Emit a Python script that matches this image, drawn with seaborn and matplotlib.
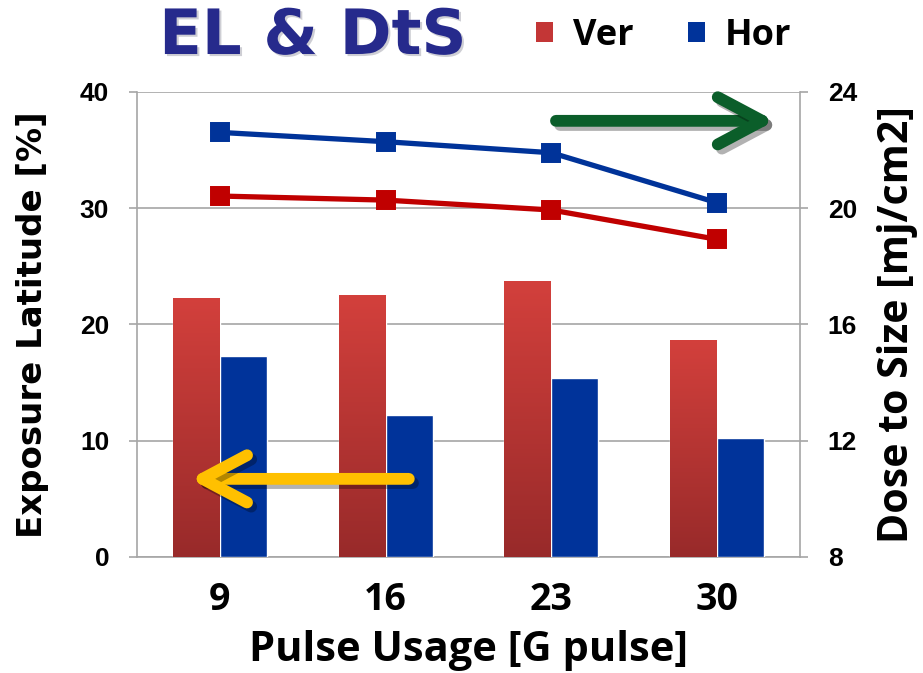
import numpy as np
import pandas as pd
import matplotlib
matplotlib.use("Agg")
import matplotlib.pyplot as plt
from matplotlib.patches import Patch, ArrowStyle
from matplotlib.colors import LinearSegmentedColormap
import matplotlib.patheffects as pe
import seaborn as sns

# ---------------- data ----------------
pulses = ["9", "16", "23", "30"]
el_ver = [22.3, 22.5, 23.75, 18.7]     # Exposure Latitude [%] (bars)
el_hor = [17.3, 12.25, 15.4, 10.2]
dts_ver = [20.42, 20.28, 19.94, 18.93]  # Dose to Size [mj/cm2] (lines)
dts_hor = [22.61, 22.29, 21.91, 20.19]
series = ["Ver", "Hor"]
left_ticks = [0, 10, 20, 30, 40]
right_ticks = [8, 12, 16, 20, 24]

el_df = pd.DataFrame({
    "pulse": pulses * 2,
    "series": [series[0]] * 4 + [series[1]] * 4,
    "el": el_ver + el_hor,
})
dts_df = pd.DataFrame({
    "pulse": pulses * 2,
    "series": [series[0]] * 4 + [series[1]] * 4,
    "dts": dts_ver + dts_hor,
})

# ---------------- style ----------------
sns.set_style("white")
plt.rcParams["font.family"] = ["DejaVu Sans"]
plt.rcParams["text.color"] = "black"
plt.rcParams["axes.labelcolor"] = "black"
plt.rcParams["xtick.color"] = "black"
plt.rcParams["ytick.color"] = "black"

SANS = "Open Sans"
RED_TOP = "#d3403c"
RED_BOT = "#982a2a"
RED_MID = "#c33636"
BLUE_BAR = "#00339a"
RED_LINE = "#c00000"
BLUE_LINE = "#003399"
GRID = "#a6a6a6"

fig = plt.figure(figsize=(9.23, 6.73), dpi=100)
fig.subplots_adjust(left=0.1484, right=0.8667, bottom=0.1724, top=0.8633)
ax = fig.add_subplot(111)

sns.barplot(data=el_df, x="pulse", y="el", hue="series", order=pulses,
            hue_order=series, palette={"Ver": RED_MID, "Hor": BLUE_BAR},
            width=0.566, gap=0, errorbar=None, legend=False, ax=ax,
            saturation=1, zorder=3)

# gradient for Ver bars
cmap = LinearSegmentedColormap.from_list("redgrad", [RED_BOT, RED_TOP])
grad = np.linspace(0, 1, 256).reshape(-1, 1)
for bar in ax.containers[0]:
    x0 = bar.get_x(); w = bar.get_width(); h = bar.get_height()
    im = ax.imshow(grad, cmap=cmap, extent=[x0, x0 + w, 0, h], origin="lower",
                   aspect="auto", zorder=bar.get_zorder() + 0.1)
    im.set_clip_path(bar)

ax.set_xlim(-0.5, 3.5)
ax.set_ylim(0, 40)
ax.set_yticks(left_ticks, labels=[str(t) for t in left_ticks],
              fontfamily="Liberation Sans", fontweight="bold", fontsize=19)
ax.set_xticks(range(len(pulses)), labels=pulses, fontfamily=SANS,
              fontweight="bold", fontsize=27)
ax.set_xticks([-0.5, 0.5, 1.5, 2.5, 3.5], minor=True)
ax.tick_params(axis="x", which="major", length=0, pad=17, labelcolor="black")
ax.tick_params(axis="x", which="minor", length=6, width=1.2, color=GRID)
ax.tick_params(axis="y", which="major", length=6, width=1.2, color=GRID, pad=14,
               left=True, labelcolor="black")
ax.yaxis.grid(True, color=GRID, lw=1.2, zorder=0)
ax.set_axisbelow(True)
for s in ["left", "bottom"]:
    ax.spines[s].set_color(GRID)
    ax.spines[s].set_linewidth(1.2)
ax.spines["top"].set_visible(False)
ax.spines["right"].set_visible(False)

ax.set_xlabel("Pulse Usage [G pulse]", fontfamily=SANS, fontweight="bold",
              fontsize=30, labelpad=8, color="black")
ax.set_ylabel("Exposure Latitude [%]", fontfamily="DejaVu Sans", fontweight="bold",
              fontsize=24.5, labelpad=22, color="black")

# ---------------- lines on right axis ----------------
ax2 = ax.twinx()
sns.pointplot(data=dts_df, x="pulse", y="dts", hue="series", order=pulses,
              hue_order=series, palette={"Ver": RED_LINE, "Hor": BLUE_LINE},
              markers="s", linestyles="-", errorbar=None, legend=False, ax=ax2,
              linewidth=3.8, markersize=12)
ax2.set_xlim(-0.5, 3.5)
ax2.set_ylim(8, 24)
ax2.set_yticks(right_ticks, labels=[str(t) for t in right_ticks],
               fontfamily="Liberation Sans", fontweight="bold", fontsize=19)
ax2.tick_params(axis="y", which="major", length=6, width=1.2, color=GRID, pad=14,
                right=True, labelcolor="black")
for s in ["left", "bottom", "top"]:
    ax2.spines[s].set_visible(False)
ax2.spines["right"].set_color(GRID)
ax2.spines["right"].set_linewidth(1.2)
ax2.set_ylabel("Dose to Size [mj/cm2]", fontfamily=SANS, fontweight="bold",
               fontsize=29.5, labelpad=14, color="black")

# ---------------- arrows ----------------
shadow = [pe.SimpleLineShadow(offset=(3, -3), alpha=0.3), pe.Normal()]
astyle = ArrowStyle("->", head_length=32, head_width=17)
ax2.annotate("", xy=(0.962, 0.938), xytext=(0.632, 0.938), xycoords="axes fraction",
             textcoords="axes fraction",
             arrowprops=dict(arrowstyle=astyle, mutation_scale=1, color="#0b5e2a",
                             lw=8.5, capstyle="round", joinstyle="round",
                             shrinkA=0, shrinkB=0, path_effects=shadow))
ax2.annotate("", xy=(0.08, 0.168), xytext=(0.41, 0.168), xycoords="axes fraction",
             textcoords="axes fraction",
             arrowprops=dict(arrowstyle=astyle, mutation_scale=1, color="#ffc000",
                             lw=8.5, capstyle="round", joinstyle="round",
                             shrinkA=0, shrinkB=0, path_effects=shadow))

# ---------------- title & legend ----------------
fig.text(0.339, 0.945, "EL & DtS", ha="center", va="center", fontsize=45,
         fontweight="bold", color="#262a8c", fontfamily="DejaVu Sans",
         path_effects=[pe.SimplePatchShadow(offset=(1.5, -1.5), alpha=0.2), pe.Normal()])

handles = [Patch(facecolor=RED_MID, edgecolor="none", label="Ver"),
           Patch(facecolor=BLUE_BAR, edgecolor="none", label="Hor")]
leg = fig.legend(handles=handles, loc="center", bbox_to_anchor=(0.719, 0.9465),
                 ncol=2, frameon=False, handlelength=0.47, handleheight=0.47,
                 handletextpad=0.55, columnspacing=1.5,
                 prop=dict(family=SANS, weight="bold", size=26))

fig.savefig("out.png", dpi=100)
